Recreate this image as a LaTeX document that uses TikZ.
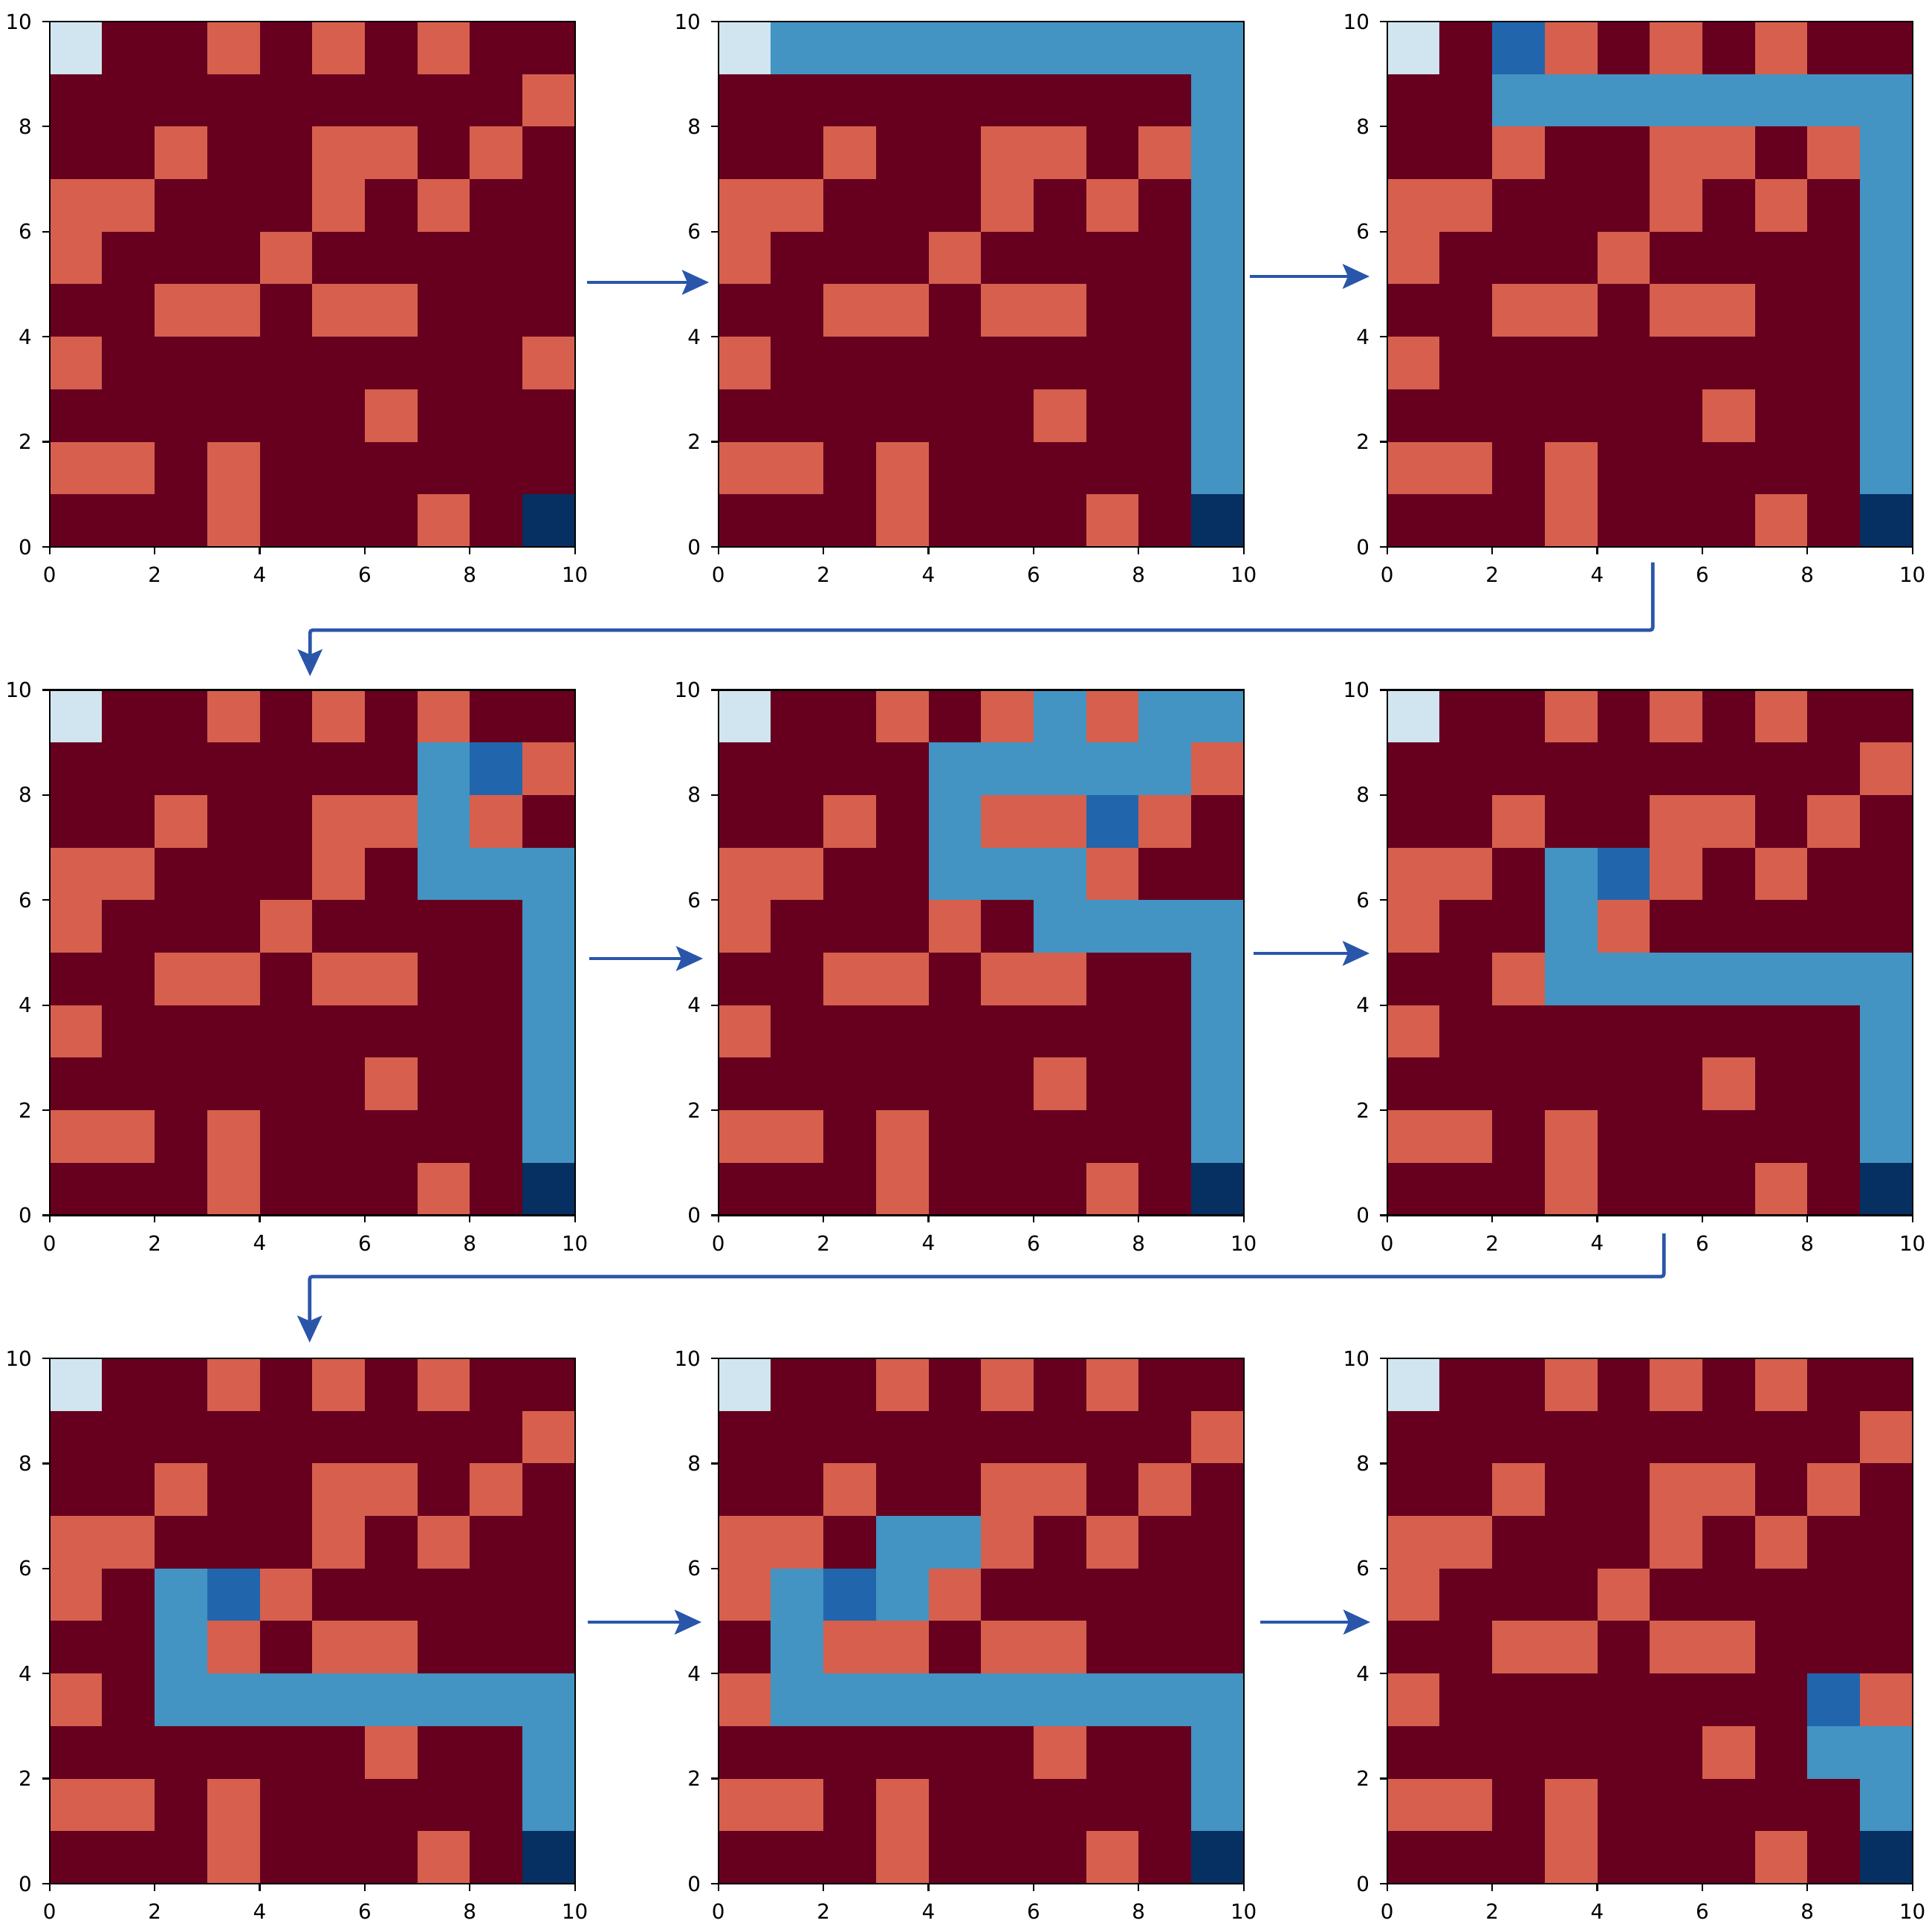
\documentclass[tikz,border=0pt]{standalone}
\usepackage{fontspec}
\setmainfont{DejaVu Sans}
\usetikzlibrary{arrows.meta,calc}

\definecolor{cellmaroon}{HTML}{67001F}
\definecolor{cellsalmon}{HTML}{D6604D}
\definecolor{cellpale}{HTML}{D1E5F0}
\definecolor{cellsteel}{HTML}{4393C3}
\definecolor{cellagent}{HTML}{2166AC}
\definecolor{cellnavy}{HTML}{053061}
\definecolor{flowblue}{RGB}{42,86,170}

% one 10x10 grid: #1 name, #2 lower-left corner, #3 path cells, #4 agent cell
\newcommand{\gridpanel}[4]{%
  \begin{scope}[shift={#2}, scale=0.707]
    \fill[cellmaroon] (0,0) rectangle (10,10);
    \foreach \cx/\cy in {3/9,5/9,7/9,9/8,2/7,5/7,6/7,8/7,0/6,1/6,5/6,7/6,
                         0/5,4/5,2/4,3/4,5/4,6/4,0/3,9/3,6/2,0/1,1/1,3/1,3/0,7/0}
      \fill[cellsalmon] (\cx,\cy) rectangle ++(1,1);
    \fill[cellpale] (0,9) rectangle ++(1,1);
    \fill[cellnavy] (9,0) rectangle ++(1,1);
    \foreach \cx/\cy in {#3}
      \fill[cellsteel] (\cx,\cy) rectangle ++(1,1);
    \foreach \cx/\cy in {#4}
      \fill[cellagent] (\cx,\cy) rectangle ++(1,1);
    \foreach \t in {0,2,...,10} {
      \draw[axtick] (\t,0) -- ++(0,-0.137) node[xlab] {\t};
      \draw[axtick] (0,\t) -- ++(-0.137,0) node[ylab] {\t};
    }
  \end{scope}
  \node[panel] (#1) at #2 {};
}

\begin{document}
\begin{tikzpicture}[
  font=\fontsize{7.9}{9}\selectfont,
  panel/.style={draw=black, line width=0.63pt, minimum width=7.07cm,
                minimum height=7.07cm, inner sep=0pt, outer sep=0pt,
                anchor=south west},
  axtick/.style={draw=black, line width=0.63pt},
  xlab/.style={anchor=north, inner sep=0pt, yshift=-0.163cm},
  ylab/.style={anchor=east, inner sep=0pt, xshift=-0.13cm},
  flow/.style={draw=flowblue, line width=0.47mm, rounded corners=1pt,
               -{Stealth[length=3.6mm,width=3.3mm,inset=0.7mm]}},
]
\useasboundingbox (0,0) rectangle (26,26);

% ---------- row 1 ----------
\gridpanel{p1}{(0.667,18.64)}{}{}
\gridpanel{p2}{(9.667,18.64)}{1/9,2/9,3/9,4/9,5/9,6/9,7/9,8/9,9/9,
  9/8,9/7,9/6,9/5,9/4,9/3,9/2,9/1}{}
\gridpanel{p3}{(18.667,18.64)}{2/8,3/8,4/8,5/8,6/8,7/8,8/8,9/8,
  9/7,9/6,9/5,9/4,9/3,9/2,9/1}{2/9}

% ---------- row 2 ----------
\gridpanel{p4}{(0.667,9.645)}{7/8,7/7,7/6,8/6,9/6,9/5,9/4,9/3,9/2,9/1}{8/8}
\gridpanel{p5}{(9.667,9.645)}{6/9,8/9,9/9,4/8,5/8,6/8,7/8,8/8,4/7,4/6,5/6,6/6,
  6/5,7/5,8/5,9/5,9/4,9/3,9/2,9/1}{7/7}
\gridpanel{p6}{(18.667,9.645)}{3/6,3/5,3/4,4/4,5/4,6/4,7/4,8/4,9/4,
  9/3,9/2,9/1}{4/6}

% ---------- row 3 ----------
\gridpanel{p7}{(0.667,0.65)}{2/5,2/4,2/3,3/3,4/3,5/3,6/3,7/3,8/3,9/3,
  9/2,9/1}{3/5}
\gridpanel{p8}{(9.667,0.65)}{3/6,4/6,1/5,3/5,1/4,1/3,2/3,3/3,4/3,5/3,6/3,7/3,
  8/3,9/3,9/2,9/1}{2/5}
\gridpanel{p9}{(18.667,0.65)}{8/2,9/2,9/1}{8/3}

% ---------- arrows between steps ----------
\draw[flow] ([shift={(0.163,0.025)}]p1.east) -- ([shift={(-0.127,0.025)}]p2.west);
\draw[flow] ([shift={(0.083,0.105)}]p2.east) -- ([shift={(-0.237,0.105)}]p3.west);
\draw[flow] ([shift={(0.04,-0.21)}]p3.south) -- ++(0,-0.91)
  -| ([shift={(-0.03,0.185)}]p4.north);

\draw[flow] ([shift={(0.193,-0.08)}]p4.east) -- ([shift={(-0.207,-0.08)}]p5.west);
\draw[flow] ([shift={(0.133,-0.01)}]p5.east) -- ([shift={(-0.237,-0.01)}]p6.west);
\draw[flow] ([shift={(0.19,-0.245)}]p6.south) -- ++(0,-0.58)
  -| ([shift={(-0.035,0.213)}]p7.north);

\draw[flow] ([shift={(0.17,-0.015)}]p7.east) -- ([shift={(-0.227,-0.015)}]p8.west);
\draw[flow] ([shift={(0.223,-0.015)}]p8.east) -- ([shift={(-0.227,-0.015)}]p9.west);

\end{tikzpicture}
\end{document}
